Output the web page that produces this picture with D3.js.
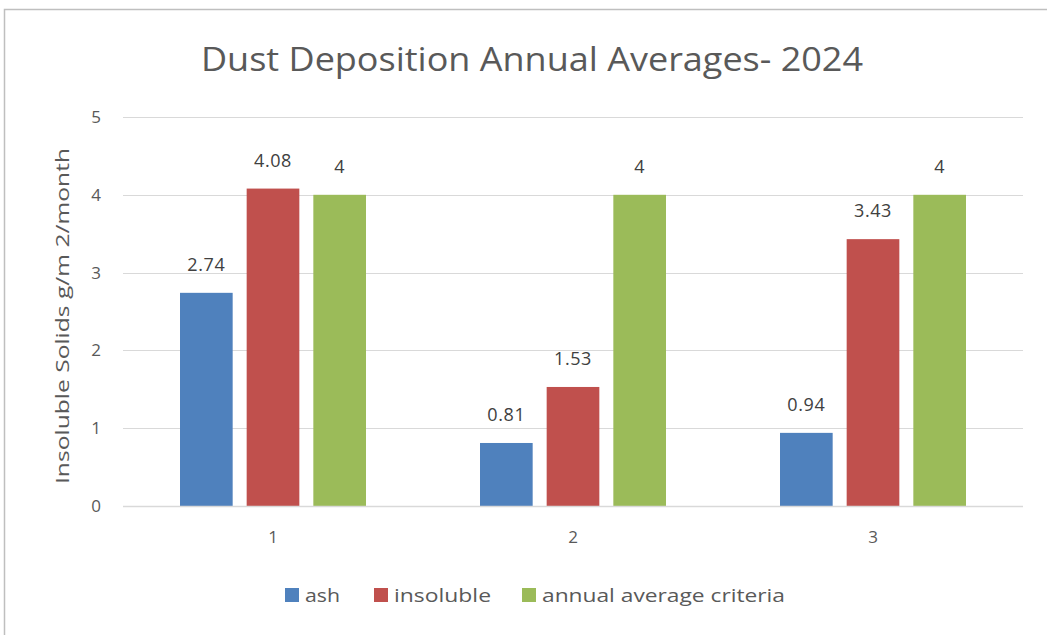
<!DOCTYPE html>
<html><head><meta charset="utf-8">
<script src="https://cdn.jsdelivr.net/npm/d3@7"></script>
<style>body{margin:0;background:#fff}svg{display:block}</style>
</head><body>
<svg id="c" width="1047" height="635"></svg>
<script>
const categories = ["1","2","3"];
const seriesNames = ["ash","insoluble","annual average criteria"];
const ash = [2.74, 0.81, 0.94];
const insoluble = [4.08, 1.53, 3.43];
const criteria = [4, 4, 4];
const yTicks = [0,1,2,3,4,5];
const colors = ["#4F81BD","#C0504D","#9BBB59"];
const seriesValues = [ash, insoluble, criteria];

(function(){
const svg = d3.select("#c");
const font = "'Open Sans', 'Noto Sans', sans-serif";
const textCol = "#595959";

// outer border (chart cropped on right/bottom)
svg.append("rect").attr("x",4.5).attr("y",9.5).attr("width",1100).attr("height",700)
  .attr("fill","#fff").attr("stroke","#bfbfbf").attr("stroke-width",1.5);

const pL = 123, pR = 1023, pT = 117, pB = 506;
const x0 = d3.scaleBand().domain(categories).range([pL,pR]).paddingInner(0.38).paddingOuter(0.19);
const x1 = d3.scaleBand().domain(seriesNames).range([0,x0.bandwidth()]).paddingInner(0.21).paddingOuter(0);
const y = d3.scaleLinear().domain([0,5]).range([pB,pT]);

// gridlines
svg.append("g").selectAll("line").data(yTicks).join("line")
  .attr("x1",pL).attr("x2",pR)
  .attr("y1",d=>Math.round(y(d))+0.5).attr("y2",d=>Math.round(y(d))+0.5)
  .attr("stroke","#d9d9d9").attr("stroke-width",1);

// y tick labels
svg.append("g").selectAll("text").data(yTicks).join("text")
  .attr("x",101).attr("y",d=>y(d)).attr("dy","0.35em")
  .attr("text-anchor","end").attr("font-family",font).attr("font-size",17)
  .attr("fill",textCol).text(d=>d);

// bars
const groups = svg.append("g").selectAll("g").data(categories).join("g")
  .attr("transform",c=>`translate(${x0(c)},0)`);
const rows = (c,i)=>seriesNames.map((s,j)=>({s,j,v:seriesValues[j][i]}));
groups.selectAll("rect").data(rows).join("rect")
  .attr("x",d=>x1(d.s)).attr("width",x1.bandwidth())
  .attr("y",d=>y(d.v)).attr("height",d=>y(0)-y(d.v))
  .attr("fill",d=>colors[d.j]);
groups.selectAll("text").data(rows).join("text")
  .attr("x",d=>x1(d.s)+x1.bandwidth()/2).attr("y",d=>y(d.v)-22)
  .attr("text-anchor","middle").attr("font-family",font).attr("font-size",18)
  .attr("letter-spacing",0.6)
  .attr("fill","#404040").text(d=>d.v);

// baseline
svg.append("line").attr("x1",pL).attr("x2",pR)
  .attr("y1",Math.round(y(0))+0.5).attr("y2",Math.round(y(0))+0.5)
  .attr("stroke","#d9d9d9").attr("stroke-width",1.5);

// x labels
svg.append("g").selectAll("text").data(categories).join("text")
  .attr("x",c=>x0(c)+x0.bandwidth()/2).attr("y",537).attr("dy","0.35em")
  .attr("text-anchor","middle").attr("font-family",font).attr("font-size",17)
  .attr("fill",textCol).text(c=>c);

// title
svg.append("text").attr("x",532).attr("y",71).attr("text-anchor","middle")
  .attr("font-family",font).attr("font-size",32).attr("fill",textCol)
  .attr("textLength",662).attr("lengthAdjust","spacingAndGlyphs")
  .text("Dust Deposition Annual Averages- 2024");

// y axis title
svg.append("text").attr("transform",`translate(69,316) rotate(-90)`)
  .attr("text-anchor","middle").attr("font-family",font).attr("font-size",19)
  .attr("textLength",336).attr("lengthAdjust","spacingAndGlyphs")
  .attr("fill",textCol).text("Insoluble Solids g/m 2/month");

// legend
const legendX = [285, 374, 522];
const legendW = [35, 97, 243];
const lg = svg.append("g").selectAll("g").data(seriesNames).join("g")
  .attr("transform",(d,i)=>`translate(${legendX[i]},588)`);
lg.append("rect").attr("width",14).attr("height",14).attr("fill",(d,i)=>colors[i]);
lg.append("text").attr("x",d=>d==="ash"?20:20).attr("y",7).attr("dy","0.35em")
  .attr("font-family",font).attr("font-size",19).attr("fill",textCol)
  .attr("textLength",(d,i)=>legendW[i]).attr("lengthAdjust","spacingAndGlyphs")
  .text(d=>d);
})();
</script>
</body></html>
